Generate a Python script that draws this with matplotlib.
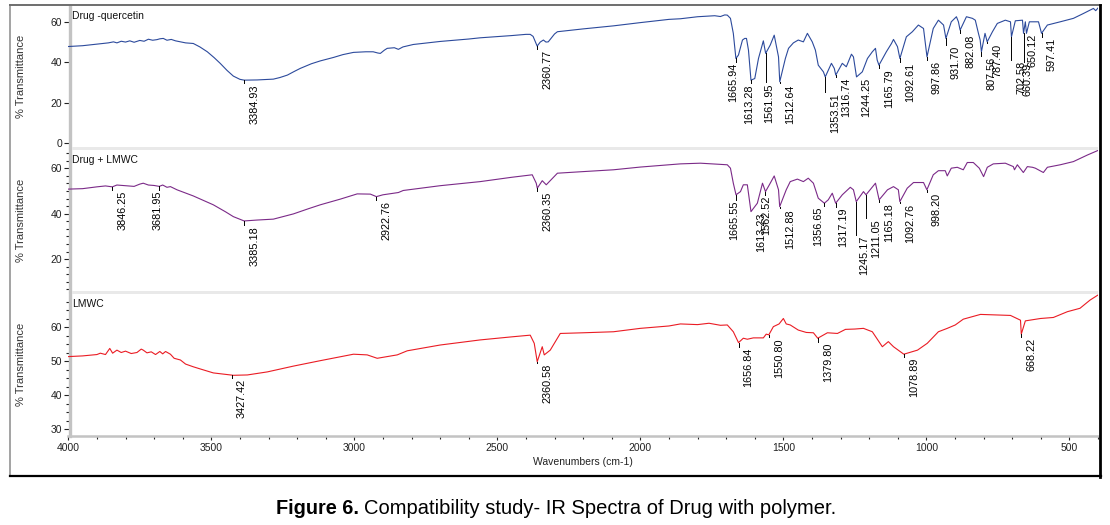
import numpy as np
import matplotlib
matplotlib.use("Agg")
import matplotlib.pyplot as plt
from matplotlib.ticker import MultipleLocator, FixedLocator
from matplotlib.lines import Line2D
from matplotlib.patches import Rectangle
import matplotlib.transforms as mtransforms

# ---------------- data ----------------
panel_names = ["Drug -quercetin", "Drug + LMWC", "LMWC"]
x_ticks = [4000, 3500, 3000, 2500, 2000, 1500, 1000, 500]

wn_drug = [4000, 3950, 3900, 3860, 3842, 3830, 3815, 3800, 3785, 3770, 3750, 3735, 3720, 3705,
           3690, 3680, 3668, 3655, 3640, 3625, 3608, 3590, 3563, 3540, 3514, 3490, 3469, 3445,
           3423, 3400, 3384.93, 3340, 3283, 3260, 3234, 3210, 3189, 3150, 3119, 3073, 3040, 3003,
           2960, 2934, 2918, 2909, 2895, 2885, 2860, 2846, 2830, 2794, 2700, 2600, 2560, 2450,
           2400, 2385, 2375, 2367, 2360.77, 2350, 2339, 2330, 2322, 2300, 2290, 2200, 2094, 2000,
           1900, 1860, 1800, 1760, 1740, 1720, 1705, 1696, 1685, 1675, 1665.94, 1657, 1643, 1635,
           1629, 1622, 1613.28, 1600, 1587, 1570, 1561.95, 1546, 1532, 1517, 1512.64, 1493, 1482,
           1465, 1448, 1430, 1416, 1399, 1388, 1378, 1360, 1353.51, 1332, 1322, 1316.74, 1294,
           1280, 1262, 1255, 1244.25, 1224, 1206, 1189, 1178, 1172, 1165.79, 1140, 1122, 1115,
           1101, 1092.61, 1070, 1049, 1028, 1010, 997.86, 976, 958, 940, 931.70, 913, 895, 888,
           882.08, 860, 839, 829, 818, 812, 807.56, 795, 787.40, 769, 752, 724, 706, 702.58, 689,
           664, 660.39, 654, 650.12, 640, 626, 608, 597.41, 577, 532, 486, 451, 416, 408, 400]
t_drug = [47.8, 48.2, 49.0, 49.6, 50.1, 49.6, 50.4, 50.0, 50.6, 49.9, 50.8, 50.4, 51.4, 50.9,
          51.2, 51.6, 51.8, 50.9, 51.3, 50.6, 50.1, 49.6, 49.3, 47.6, 45.2, 42.3, 39.5, 36.0,
          33.2, 31.6, 31.2, 31.3, 31.7, 32.5, 33.7, 35.5, 37.0, 39.3, 40.7, 42.4, 43.8, 44.9,
          45.2, 45.2, 44.6, 44.4, 46.0, 46.9, 47.2, 46.4, 47.6, 48.8, 50.3, 51.5, 52.1, 53.2,
          53.8, 53.8, 52.8, 50.1, 48.0, 50.0, 51.0, 50.0, 50.1, 54.0, 55.1, 56.5, 58.0, 59.6,
          61.2, 61.5, 62.5, 62.8, 63.0, 62.6, 63.4, 63.3, 61.7, 54.3, 41.9, 43.6, 51.0, 51.8,
          51.8, 46.0, 31.2, 32.0, 41.9, 50.6, 44.4, 48.5, 53.4, 42.7, 30.4, 41.9, 46.9,
          49.6, 51.0, 50.1, 54.3, 50.1, 46.0, 38.6, 35.3, 32.8, 39.5, 37.0, 33.7, 39.5,
          37.8, 44.0, 42.7, 32.8, 35.3, 41.9, 45.2, 46.9, 41.1, 38.6, 45.2, 49.3, 51.3,
          47.7, 41.9, 52.6, 55.1, 58.4, 56.7, 42.7, 56.7, 60.8, 58.4, 51.8, 60.0, 62.5, 60.0,
          55.9, 62.5, 61.7, 60.8, 54.3, 51.0, 45.2, 54.3, 50.1, 55.1, 59.2, 60.8, 60.0, 52.6, 60.5,
          60.8, 54.3, 60.0, 54.3, 60.0, 60.0, 60.0, 54.3, 58.4, 60.0, 61.7, 64.1, 66.6, 65.5, 66.8]

wn_mix = [4000, 3950, 3900, 3870, 3846.25, 3830, 3800, 3770, 3750, 3738, 3720, 3700, 3681.95,
          3670, 3655, 3643, 3620, 3563, 3493, 3450, 3423, 3385.18, 3340, 3283, 3213, 3160, 3119,
          3049, 2990, 2944, 2922.76, 2900, 2846, 2829, 2700, 2560, 2450, 2378, 2364, 2360.35,
          2343, 2329, 2290, 2200, 2094, 2000, 1860, 1790, 1696, 1685, 1675, 1665.55, 1650, 1640,
          1626, 1613.23, 1591, 1573, 1562.52, 1549, 1532, 1517, 1512.88, 1490, 1476, 1451, 1430,
          1413, 1395, 1378, 1356.65, 1343, 1329, 1317.19, 1294, 1266, 1255, 1245.17, 1220,
          1211.05, 1178, 1165.18, 1136, 1115, 1098, 1092.76, 1067, 1045, 1010, 998.20, 976, 958,
          934, 927, 913, 892, 871, 857, 836, 815, 800, 787, 766, 724, 696, 692, 682, 661, 647,
          629, 619, 591, 577, 532, 486, 437, 400]
t_mix = [50.8, 51.0, 51.8, 52.2, 51.8, 52.6, 52.3, 52.0, 53.0, 53.4, 52.6, 52.4, 52.0,
         52.6, 51.6, 51.9, 50.5, 47.8, 43.9, 40.8, 38.7, 36.8, 37.2, 37.6, 39.9, 42.2, 43.9,
         46.4, 48.7, 48.6, 47.5, 48.3, 49.3, 50.2, 52.3, 54.1, 56.0, 57.1, 53.4, 51.2,
         54.5, 52.7, 57.8, 58.5, 59.3, 60.5, 61.9, 62.2, 61.5, 60.0, 53.4, 48.3, 49.7, 52.7,
         52.7, 40.9, 44.6, 53.4, 49.7, 52.7, 56.6, 50.5, 43.1, 50.5, 54.1, 55.2, 54.1,
         55.6, 53.4, 46.8, 44.6, 46.1, 49.0, 44.6, 48.3, 51.6, 50.5, 45.3, 49.7,
         48.3, 53.4, 46.1, 50.5, 51.9, 50.5, 45.3, 51.2, 53.7, 53.7, 50.5, 57.1, 58.9,
         58.9, 56.6, 60.0, 60.4, 59.3, 62.5, 62.5, 60.0, 56.3, 60.4, 61.9, 62.2, 60.7, 59.3, 61.5, 58.1, 60.7,
         60.4, 60.0, 58.1, 60.4, 61.5, 62.9, 65.8, 67.8]

wn_lmwc = [4000, 3950, 3900, 3888, 3870, 3855, 3845, 3830, 3815, 3800, 3780, 3760, 3745, 3738,
           3725, 3710, 3695, 3680, 3670, 3660, 3643, 3630, 3608, 3590, 3563, 3540, 3493, 3423,
           3374, 3304, 3213, 3119, 3003, 2955, 2920, 2850, 2815, 2700, 2560, 2450, 2385, 2371,
           2360.58, 2343, 2336, 2315, 2280, 2200, 2094, 2000, 1900, 1860, 1800, 1760, 1720, 1696,
           1675, 1656.84, 1640, 1626, 1605, 1570, 1560, 1550.80, 1535, 1515, 1500, 1490, 1476,
           1448, 1420, 1395, 1379.80, 1346, 1311, 1283, 1250, 1220, 1189, 1154, 1133, 1115,
           1078.89, 1031, 997, 958, 927, 899, 871, 811, 706, 671, 668.22, 654, 601, 556, 507,
           463, 428, 400]
t_lmwc = [51.4, 51.6, 52.0, 52.4, 52.0, 53.8, 52.4, 53.3, 52.6, 53.0, 52.3, 52.6, 53.6, 53.3,
          52.5, 52.8, 52.0, 52.9, 52.2, 52.9, 52.1, 50.9, 50.4, 49.2, 48.4, 47.8, 46.6, 45.9,
          46.0, 46.9, 48.6, 50.2, 52.1, 51.9, 50.9, 51.9, 53.1, 54.8, 56.3, 57.2, 57.7, 55.3,
          49.9, 54.3, 51.9, 53.3, 58.2, 58.4, 58.7, 59.7, 60.4, 61.0, 60.8, 61.2, 60.6, 60.7,
          58.7, 55.5, 56.8, 56.5, 56.9, 56.9, 58.0, 57.8, 60.2, 61.0, 62.6, 61.0, 60.7,
          59.2, 58.5, 58.4, 56.8, 58.4, 58.2, 59.4, 59.5, 59.7, 58.7, 54.3, 55.8, 54.3,
          52.1, 53.3, 55.3, 58.7, 59.7, 60.7, 62.4, 63.8, 63.5, 62.1, 58.0, 61.9, 62.6, 62.9, 64.6,
          65.6, 68.0, 69.5]

# peak labels: (wavenumber label, value where label text begins)
peaks_drug = [("3384.93", 29.7), ("2360.77", 46.5), ("1665.94", 40.1), ("1613.28", 29.7),
              ("1561.95", 30.2), ("1512.64", 29.7), ("1353.51", 25.3), ("1316.74", 32.7),
              ("1244.25", 32.7), ("1165.79", 37.1), ("1092.61", 40.1), ("997.86", 41.1),
              ("931.70", 48.5), ("882.08", 54.4), ("807.56", 43.1), ("787.40", 49.5),
              ("702.58", 41.1), ("660.39", 40.1), ("650.12", 54.4), ("597.41", 52.4)]
peaks_mix = [("3846.25", 50.5), ("3681.95", 50.5), ("3385.18", 35.1), ("2922.76", 46.1),
             ("2360.35", 50.0), ("1665.55", 46.1), ("1613.23", 40.8), ("1562.52", 48.3),
             ("1512.88", 42.5), ("1356.65", 43.4), ("1317.19", 43.0), ("1245.17", 30.7),
             ("1211.05", 38.2), ("1165.18", 45.2), ("1092.76", 44.7), ("998.20", 49.6)]
peaks_lmwc = [("3427.42", 45.1), ("2360.58", 49.5), ("1656.84", 54.2), ("1550.80", 57.1),
              ("1379.80", 55.7), ("1078.89", 51.3), ("668.22", 57.1)]

# horizontal label shift (pixels) relative to peak, for crowded labels
shift_px = {"1665.94": -3, "1613.28": -2, "1561.95": 4, "660.39": 4, "650.12": 6,
            "3681.95": -2, "1665.55": -2, "1562.52": 1, "1356.65": -6, "1317.19": 7,
            "1245.17": 8}

# ---------------- layout ----------------
W, H = 1110, 525
fig = plt.figure(figsize=(W / 100, H / 100), dpi=100)
fig.patch.set_facecolor("white")

def fx(px):
    return px / W

def fy(py):
    return 1 - py / H

left_px, right_px = 68.3, 1098
rows = [(6, 147), (150, 291), (294, 435.5)]
ylims = [(-1.8, 67.8), (6.0, 68.0), (28.2, 69.8)]
colors = ["#2c4a9c", "#7b2a88", "#ea1c24"]
series = [(wn_drug, t_drug, peaks_drug), (wn_mix, t_mix, peaks_mix), (wn_lmwc, t_lmwc, peaks_lmwc)]
major_y = [[0, 20, 40, 60], [20, 40, 60], [30, 40, 50, 60]]
minor_step = [None, 20 / 6, 2.5]

tick_family = ["Liberation Sans", "DejaVu Sans"]
label_font = ["Liberation Sans", "DejaVu Sans"]
spine_gray = "#c3c3c3"

for i, (top, bot) in enumerate(rows):
    ax = fig.add_axes([fx(left_px), fy(bot), (right_px - left_px) / W, (bot - top) / H])
    wn, tr, peaks = series[i]
    ax.plot(wn, tr, color=colors[i], lw=0.8, zorder=3)
    ax.set_xlim(4000, 400)
    ax.set_ylim(*ylims[i])
    for s in ["top", "right"]:
        ax.spines[s].set_visible(False)
    ax.spines["left"].set_color(spine_gray)
    ax.spines["left"].set_linewidth(2.4)
    ax.spines["left"].set_position(("outward", -1.2))
    ax.yaxis.set_major_locator(FixedLocator(major_y[i]))
    if minor_step[i]:
        ax.yaxis.set_minor_locator(MultipleLocator(minor_step[i]))
    ax.tick_params(axis="y", which="major", length=4.0, width=0.8, color="#222222", pad=1.5,
                   labelsize=7.5, labelcolor="#222222")
    ax.tick_params(axis="y", which="minor", length=3.2, width=0.8, color="#222222")
    for lab in ax.get_yticklabels():
        lab.set_family(tick_family)
    if i < 2:
        ax.spines["bottom"].set_visible(False)
        ax.tick_params(axis="x", which="both", bottom=False, labelbottom=False)
    else:
        ax.spines["bottom"].set_color(spine_gray)
        ax.spines["bottom"].set_linewidth(1.8)
        ax.xaxis.set_major_locator(FixedLocator(x_ticks))
        ax.xaxis.set_minor_locator(MultipleLocator(100))
        ax.tick_params(axis="x", which="major", length=3.0, width=0.8, color="#222222", pad=2.5,
                       labelsize=7.5, labelcolor="#222222")
        ax.tick_params(axis="x", which="minor", length=2.0, width=0.8, color="#222222")
        for lab in ax.get_xticklabels():
            lab.set_family(tick_family)
        ax.set_xlabel("Wavenumbers (cm-1)", fontsize=7.5, family=label_font, color="#222222",
                      labelpad=3)
    ax.text(0.004, 1 - 10 / (bot - top), panel_names[i], transform=ax.transAxes,
            fontsize=7.5, family=label_font, va="center", ha="left", color="#111111")

    # peak labels with leader lines
    wn_arr = np.array(wn)[::-1]
    tr_arr = np.array(tr)[::-1]
    for txt, ytop in peaks:
        x = float(txt)
        yv = float(np.interp(x, wn_arr, tr_arr))
        if yv > ytop:
            ax.plot([x, x], [yv, ytop], color="black", lw=0.7, zorder=4)
        dx = shift_px.get(txt, 10)
        trans = ax.transData + mtransforms.ScaledTranslation(dx / 100, -1 / 100, fig.dpi_scale_trans)
        ax.text(x, ytop, txt, transform=trans, rotation=90, ha="center", va="top",
                fontsize=7.8, family=label_font, color="black", zorder=5)

# y axis labels
for (top, bot) in rows:
    fig.text(fx(21), fy((top + bot) / 2), "% Transmittance", rotation=90, ha="center",
             va="center", fontsize=8, family=label_font, color="#333333")

# separator bands between panels
for y0, y1 in [(147, 150), (291, 294)]:
    fig.add_artist(Rectangle((fx(71.7), fy(y1)), (right_px - 71.7) / W, (y1 - y0) / H,
                             transform=fig.transFigure, facecolor="#e9e9e9", edgecolor="none"))

# window frame
fig.add_artist(Line2D([fx(9.5), fx(9.5)], [fy(5), fy(476)], transform=fig.transFigure,
                      color="#8a8a8a", lw=1.1))
fig.add_artist(Line2D([fx(9.5), fx(1101)], [fy(5.3), fy(5.3)], transform=fig.transFigure,
                      color="#6e6e6e", lw=1.4))
fig.add_artist(Line2D([fx(1100), fx(1100)], [fy(5), fy(476.5)], transform=fig.transFigure,
                      color="black", lw=2.0))
fig.add_artist(Line2D([fx(9.5), fx(1101)], [fy(475.8), fy(475.8)], transform=fig.transFigure,
                      color="black", lw=1.6))

# caption
cap_font = ["Liberation Sans", "DejaVu Sans"]
fig.text(fx(359), fy(508), "Figure 6.", ha="right", va="center", fontsize=14.3, fontweight="bold",
         family=cap_font, color="black")
fig.text(fx(364), fy(508), "Compatibility study- IR Spectra of Drug with polymer.", ha="left",
         va="center", fontsize=14.5, family=cap_font, color="black")

fig.savefig("out.png", dpi=100, facecolor="white")
